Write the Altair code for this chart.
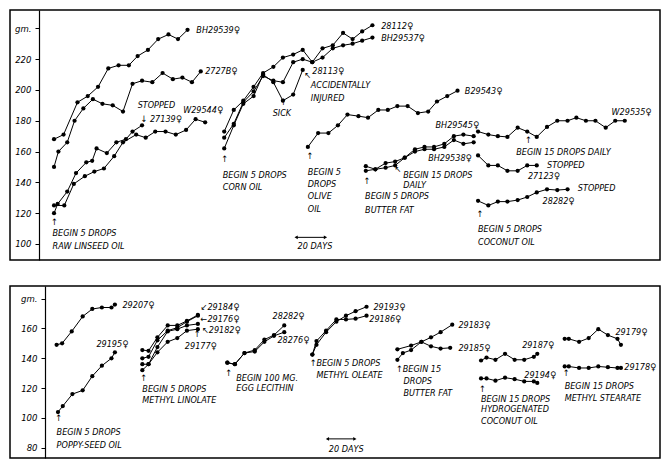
import altair as alt
import pandas as pd

# ---------------- TOP PANEL: day of experiment vs body weight (gm.) ----------------
bh29539_day = [30, 36.5, 46, 53, 60, 67, 74, 81, 87, 94, 101, 108, 114.5, 121]
bh29539_gm = [168, 171, 192, 196, 202, 214, 216, 216, 222, 226, 233, 236, 233, 239]

r2727b_day = [30, 33, 39, 44, 50, 56.5, 63, 70, 77, 83.5, 90, 97, 104, 111, 117.5, 124, 130]
r2727b_gm = [150, 160, 166, 180, 188, 194, 191, 190, 186, 204, 206, 205, 211, 207, 208, 205, 212]

r27139_day = [30, 32.5, 39, 45, 52, 56, 59, 66, 72.5, 79, 83.5, 90]
r27139_gm = [120, 126, 134, 146, 153, 154, 162, 159, 166, 168, 173, 177]

w29544_day = [30, 37, 43.5, 51, 57.5, 64, 71, 77, 86, 92.5, 99, 106, 113, 120, 126.5, 133]
w29544_gm = [125, 125, 139, 144, 147, 149, 157, 166, 171, 169, 173, 173, 171, 174, 181, 179]

corn_day = [146, 152.5, 159, 166, 172.5, 179.5, 186, 193, 199.5, 206, 213, 220, 227, 233.5, 240, 247]
r28112_gm = [173, 187, 193, 202, 211, 215, 221, 223, 226, 218, 227, 229, 237, 233, 238, 242]
bh29537_gm = [169, 178, 192, 199, 209, 206, 205, 218, 220, 218, 221, 227, 229, 230, 232, 234]
r28113_gm = [162, 177, 191, 196, 210, 205, 193, 197, 213]

olive_day = [203, 210, 217, 223.5, 230, 237.5, 244, 251, 257.5, 264, 271, 278, 285, 291, 298, 305]
b29543_gm = [163, 172, 172, 177, 184, 183, 182, 187, 187, 189.5, 189.5, 185, 186, 192.5, 196, 199.5]

butter_day = [242.5, 249, 256, 262.5, 269, 276, 282.5, 289, 296, 302.5, 309, 316]
bh29545_gm = [150.5, 148.5, 152.5, 153.5, 156, 161.5, 163, 163, 165, 170, 171, 170]
bh29538_gm = [147.5, 148.5, 149.5, 151, 156, 160, 161.5, 161.5, 163, 167.5, 165, 166]

late_day = [319, 326, 332.5, 339, 346, 352.5, 359, 366, 373, 380, 386, 392.5, 399, 406, 412.5, 419]
w29535_gm = [173, 171, 170, 169.5, 175.5, 173, 169.5, 176, 180, 180, 182, 180, 180, 175.5, 180, 180]
r27123_gm = [157.5, 151, 151, 147.5, 147.5, 151, 151]
r28282_gm = [128, 125, 127.5, 127.5, 128.5, 130.5, 133.5, 135.5, 135, 135.5]

# ---------------- BOTTOM PANEL ----------------
r29207_day = [34, 38, 45, 53, 60, 67, 74, 76.5]
r29207_gm = [149, 150, 158, 168, 173, 174, 174, 176]
r29195_day = [35, 38.5, 45.5, 53, 60, 67, 74, 76.5]
r29195_gm = [104, 108, 116, 118.5, 128, 135, 140, 144]

linolate_day = [96.5, 101, 107.5, 115, 122, 129, 137]
r29184_gm = [145.5, 145, 154, 162, 162, 165, 169]
r29176_gm = [140, 141, 152, 158.5, 160.5, 164.5, 168.5]
r29182_gm = [136, 136, 147.5, 158, 159.5, 162, 163]
r29177_gm = [132, 136, 144, 151, 153.5, 158.5, 159.5]

lecithin_day = [158.5, 164, 171, 178.5, 185.5, 192.5, 200]
r28282b_gm = [137, 136, 143.5, 145.5, 152.5, 155.5, 162]
r28276_gm = [137, 136, 143.5, 144.5, 151, 155, 157.5]

oleate_day = [220.5, 223.5, 230.5, 238, 245, 252, 260]
r29193_gm = [142.5, 149, 157.5, 164.5, 168.5, 171.5, 174.5]
r29186_gm = [142.5, 151.5, 158.5, 166, 166, 166.5, 168.5]

r29183_day = [282.5, 292.5, 300, 307, 314, 322.5]
r29183_gm = [146, 148.5, 151, 154, 157.5, 162.5]
r29185_day = [282.5, 286.5, 292.5, 300, 307, 314, 321]
r29185_gm = [139, 143.5, 145.5, 151, 148, 146.5, 147]

hydro_day = [343.5, 347.5, 354, 361, 368, 375, 382, 384.5]
r29187_gm = [138.5, 140.5, 139, 143, 139, 139, 141, 143]
r29194_gm = [126.5, 126.5, 125, 127, 126, 124.5, 124.5, 123.5]

stearate_day = [404.5, 407.5, 415, 422, 429, 436, 443, 445.5]
r29179_gm = [153, 153, 151, 153.5, 159.5, 155.5, 153, 149]
r29178_gm = [134.5, 134.5, 133.5, 133.5, 134.5, 134, 133.5, 133.5]

# ---------------- annotations (text, day, gm) ----------------
top_notes = [
    ("BH29539♀", 127, 239), ("2727B♀", 133, 212), ("STOPPED", 87, 190),
    ("↓ 27139♀", 89, 181), ("W29544♀", 118, 187),
    ("↑", 28, 114), ("BEGIN 5 DROPS", 29, 107), ("RAW LINSEED OIL", 29, 98.5),
    ("↑", 144, 155), ("BEGIN 5 DROPS", 145, 145), ("CORN OIL", 145, 137),
    ("↑", 184, 192), ("SICK", 179, 185),
    ("↖", 200.5, 209.5), ("28113♀", 206, 212.5), ("ACCIDENTALLY", 205, 203), ("INJURED", 205, 194.5),
    ("28112♀", 253, 241.5), ("BH29537♀", 253, 233.5),
    ("↑", 202, 157), ("BEGIN 5", 203, 147), ("DROPS", 203, 139), ("OLIVE", 203, 131), ("OIL", 203, 123),
    ("20 DAYS", 196, 98.5),
    ("↑", 241, 141), ("BEGIN 5 DROPS", 242, 131), ("BUTTER FAT", 242, 122),
    ("↖", 262, 148.5), ("BEGIN 15 DROPS", 268, 145), ("DAILY", 268, 138.5),
    ("BH29538♀", 285, 156), ("BH29545♀", 290, 177), ("B29543♀", 310, 199.5),
    ("W29535♀", 410, 185.5), ("↑", 351, 167.5), ("BEGIN 15 DROPS DAILY", 345, 160),
    ("STOPPED", 366, 151.5), ("27123♀", 353, 144),
    ("STOPPED", 387, 136.5), ("28282♀", 363, 128),
    ("↑", 318, 119.5), ("BEGIN 5 DROPS", 319, 110), ("COCONUT OIL", 319, 101.5),
]
bottom_notes = [
    ("29207♀", 82, 175.5), ("29195♀", 63, 149.5),
    ("↑", 33, 100), ("BEGIN 5 DROPS", 34, 90.5), ("POPPY-SEED OIL", 34, 82),
    ("↙29184♀", 139, 174.5), ("←29176♀", 139, 166.5), ("↖29182♀", 140, 159),
    ("29177♀", 127.5, 148.5), ("↑", 134, 156),
    ("↑", 95, 127), ("BEGIN 5 DROPS", 96.5, 119.5), ("METHYL LINOLATE", 96.5, 112),
    ("28282♀", 191.5, 168.5), ("28276♀", 195, 152),
    ("↑", 157, 130), ("BEGIN 100 MG.", 165, 127), ("EGG LECITHIN", 165, 120),
    ("29193♀", 265, 174.5), ("29186♀", 262, 166),
    ("↑BEGIN 5 DROPS", 218.5, 136.5), ("METHYL OLEATE", 223.5, 128.5),
    ("29183♀", 327, 162), ("29185♀", 327, 147),
    ("↑BEGIN 15", 281.5, 132.5), ("DROPS", 287, 124.5), ("BUTTER FAT", 287, 116.5),
    ("29187♀", 373.5, 149), ("29194♀", 375, 129),
    ("↑", 342, 119.5), ("BEGIN 15 DROPS", 343.5, 113), ("HYDROGENATED", 343.5, 106), ("COCONUT OIL", 343.5, 98),
    ("29179♀", 441.5, 157.5), ("29178♀", 448, 134),
    ("↑", 403, 130), ("BEGIN 15 DROPS", 404.5, 121.5), ("METHYL STEARATE", 404.5, 113.5),
    ("20 DAYS", 232.5, 79),
]

top_series = [
    ("BH29539", bh29539_day, bh29539_gm), ("2727B", r2727b_day, r2727b_gm),
    ("27139", r27139_day, r27139_gm), ("W29544", w29544_day, w29544_gm),
    ("28112", corn_day, r28112_gm), ("BH29537", corn_day, bh29537_gm),
    ("28113", corn_day[:len(r28113_gm)], r28113_gm),
    ("B29543", olive_day, b29543_gm),
    ("BH29545", butter_day, bh29545_gm), ("BH29538", butter_day, bh29538_gm),
    ("W29535", late_day, w29535_gm), ("27123", late_day[:len(r27123_gm)], r27123_gm),
    ("28282", late_day[:len(r28282_gm)], r28282_gm),
]
bottom_series = [
    ("29207", r29207_day, r29207_gm), ("29195", r29195_day, r29195_gm),
    ("29184", linolate_day, r29184_gm), ("29176", linolate_day, r29176_gm),
    ("29182", linolate_day, r29182_gm), ("29177", linolate_day, r29177_gm),
    ("28282", lecithin_day, r28282b_gm), ("28276", lecithin_day, r28276_gm),
    ("29193", oleate_day, r29193_gm), ("29186", oleate_day, r29186_gm),
    ("29183", r29183_day, r29183_gm), ("29185", r29185_day, r29185_gm),
    ("29187", hydro_day, r29187_gm), ("29194", hydro_day, r29194_gm),
    ("29179", stearate_day, r29179_gm), ("29178", stearate_day, r29178_gm),
]

FONT = "Liberation Sans Narrow, DejaVu Sans Condensed, DejaVu Sans"


def to_frame(rows):
    recs = []
    for name, days, gms in rows:
        for d, g in zip(days, gms):
            recs.append({"series": name, "day": d, "gm": g})
    return pd.DataFrame(recs)


def notes_frame(rows):
    return pd.DataFrame(rows, columns=["label", "day", "gm"])


def panel(series, notes, xdom, ydom, ticks, gm_tick, offset, height, arrow):
    x = alt.X("day:Q", scale=alt.Scale(domain=xdom, nice=False, zero=False), axis=None)
    x2 = alt.X2("day2:Q")
    y = alt.Y(
        "gm:Q",
        scale=alt.Scale(domain=ydom, nice=False, zero=False),
        axis=alt.Axis(
            values=ticks, title=None, grid=False, offset=offset,
            labelExpr=f"datum.value == {gm_tick} ? 'gm.' : datum.label",
            tickSize=4, labelPadding=4,
        ),
    )
    df = to_frame(series)
    base = alt.Chart(df)
    lines = base.mark_line(color="black", strokeWidth=1).encode(
        x=x, y=y, detail="series:N", order="day:Q")
    pts = base.mark_circle(color="black", size=18, opacity=1).encode(x=x, y=y)
    txt = alt.Chart(notes_frame(notes)).mark_text(
        align="left", baseline="middle", font=FONT, fontSize=9,
        fontStyle="italic", color="black").encode(x=x, y=y, text="label:N")
    arr_df = pd.DataFrame([{"day": arrow[0], "day2": arrow[1], "gm": arrow[2]}])
    rule = alt.Chart(arr_df).mark_rule(color="black", strokeWidth=1).encode(x=x, x2=x2, y=y)
    heads = pd.DataFrame([
        {"day": arrow[0], "gm": arrow[2], "shape": "triangle-left"},
        {"day": arrow[1], "gm": arrow[2], "shape": "triangle-right"},
    ])
    tri = alt.Chart(heads).mark_point(filled=True, color="black", size=14, opacity=1).encode(
        x=x, y=y, shape=alt.Shape("shape:N", scale=None))
    return alt.layer(lines, pts, txt, rule, tri).properties(width=650, height=height)


top = panel(top_series, top_notes, [0, 443], [89.6, 251.9],
            [100, 120, 140, 160, 180, 200, 220, 240], 240, -29, 250,
            (195, 215, 104.3))
bottom = panel(bottom_series, bottom_notes, [0, 474], [73.2, 188.4],
               [80, 100, 120, 140, 160, 180], 180, -35, 172,
               (231.5, 251.5, 86))

chart = alt.vconcat(top, bottom, spacing=24).properties(padding=1).configure_view(
    stroke="black", strokeWidth=1.5
).configure_axis(
    domainColor="black", tickColor="black", labelColor="black",
    labelFont=FONT, labelFontSize=9.5, labelFontStyle="italic", domainWidth=1.2,
)

chart.save("out.html", embed_options={"renderer": "svg", "actions": False})
